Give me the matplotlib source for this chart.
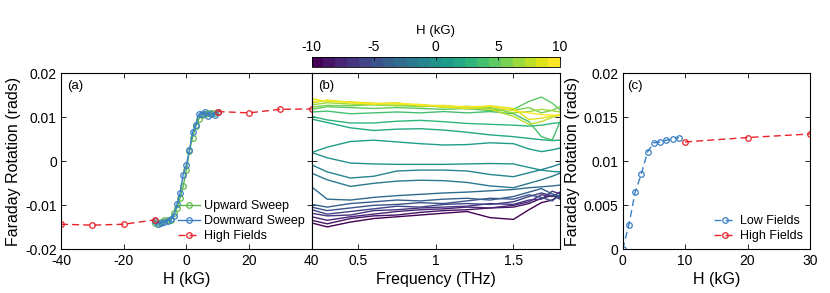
import numpy as np
import matplotlib
matplotlib.use("Agg")
import matplotlib.pyplot as plt
from matplotlib.colors import ListedColormap, Normalize
from matplotlib.cm import ScalarMappable

plt.rcParams['font.family'] = ['Liberation Sans', 'DejaVu Sans']
plt.rcParams['axes.unicode_minus'] = False

# ---- panel (a): hysteresis sweeps ----
h_sweep = np.arange(-10, 11)
up_sweep = [-0.0140, -0.0142, -0.0138, -0.0134, -0.0134, -0.0133, -0.0118, -0.0106,
            -0.0084, -0.0056, -0.0020, 0.0024, 0.0054, 0.0080, 0.0096, 0.0106,
            0.0108, 0.0110, 0.0110, 0.0110, 0.0112]
down_sweep = [-0.0136, -0.0142, -0.0140, -0.0138, -0.0135, -0.0132, -0.0124, -0.0098,
              -0.0072, -0.0030, -0.0008, 0.0026, 0.0066, 0.0082, 0.0107, 0.0108,
              0.0112, 0.0104, 0.0108, 0.0105, 0.0112]
h_high_a = [-40, -30, -20, -10, np.nan, 10, 20, 30, 40]
high_a = [-0.0143, -0.0145, -0.0143, -0.0133, np.nan, 0.0113, 0.0110, 0.0118, 0.0119]

# ---- panel (b): rotation spectra, one per field (mrad) ----
freq = [0.2, 0.3, 0.45, 0.6, 0.75, 0.9, 1.05, 1.2, 1.35, 1.5, 1.6, 1.68, 1.75, 1.8]
spectra = {
    10: [13.6, 13.8, 13.3, 13.0, 13.2, 12.8, 12.6, 12.4, 12.5, 11.5, 11.0, 10.6, 10.5, 10.4],
    9: [14.2, 13.6, 13.5, 13.2, 13.0, 12.9, 12.3, 12.0, 12.6, 12.0, 9.5, 9.8, 10.3, 10.6],
    8: [13.2, 13.9, 13.4, 13.1, 13.3, 12.5, 12.7, 12.2, 11.8, 10.2, 8.4, 9.0, 10.0, 10.5],
    7: [12.8, 13.3, 13.0, 12.8, 12.6, 12.9, 12.2, 12.5, 12.0, 11.0, 11.3, 11.8, 11.5, 11.2],
    6: [12.3, 12.7, 12.6, 12.9, 12.7, 12.4, 12.6, 11.9, 12.2, 11.6, 12.2, 11.0, 11.6, 12.4],
    5: [11.8, 12.4, 12.2, 12.0, 12.2, 12.0, 11.8, 12.0, 11.5, 11.8, 13.6, 14.6, 13.2, 11.7],
    4: [11.2, 11.4, 10.8, 11.0, 11.2, 11.0, 11.3, 11.0, 11.3, 10.8, 9.0, 5.6, 4.8, 9.0],
    3: [10.2, 9.4, 8.7, 8.7, 9.1, 9.3, 9.0, 8.6, 8.4, 8.2, 8.0, 8.2, 8.6, 8.8],
    2: [9.6, 8.8, 7.6, 7.0, 7.3, 7.4, 7.1, 6.6, 6.0, 5.6, 5.2, 4.9, 4.7, 4.8],
    1: [2.0, 3.2, 4.5, 4.8, 4.4, 4.0, 3.7, 3.8, 4.2, 4.0, 2.8, 2.2, 2.6, 3.0],
    0: [2.0, 0.8, -0.4, -0.6, -0.7, -0.7, -0.7, -0.6, -0.5, -0.6, -1.4, -2.0, -2.3, -2.4],
    -1: [-0.8, -2.4, -3.8, -3.4, -2.2, -2.0, -2.0, -2.2, -3.0, -3.5, -2.6, -1.9, -1.2, -0.6],
    -2: [-2.7, -4.2, -5.7, -5.0, -4.5, -4.3, -4.4, -4.8, -5.6, -6.0, -5.0, -4.2, -3.4, -2.7],
    -3: [-5.8, -8.6, -8.8, -8.2, -7.8, -7.5, -7.2, -7.0, -6.7, -6.4, -6.0, -5.8, -5.6, -5.4],
    -4: [-9.8, -10.4, -9.6, -9.2, -8.8, -9.0, -8.6, -8.4, -8.8, -8.0, -7.0, -6.2, -7.4, -8.0],
    -5: [-10.4, -11.2, -10.6, -10.0, -9.8, -9.4, -9.6, -9.0, -8.4, -8.6, -7.6, -8.2, -9.0, -7.6],
    -6: [-11.0, -12.0, -11.4, -10.8, -10.2, -10.4, -9.8, -9.6, -9.8, -9.2, -8.0, -7.2, -7.8, -8.6],
    -7: [-11.8, -12.4, -12.2, -11.2, -11.0, -10.6, -10.4, -10.2, -9.6, -9.8, -8.8, -8.6, -6.8, -7.4],
    -8: [-12.6, -13.4, -12.6, -12.0, -11.4, -11.0, -10.8, -10.4, -10.6, -10.0, -9.2, -7.6, -8.0, -7.0],
    -9: [-13.4, -14.2, -13.0, -12.4, -12.2, -11.6, -11.2, -11.0, -10.6, -10.4, -9.6, -8.4, -7.8, -8.2],
    -10: [-14.0, -14.9, -13.8, -13.0, -12.6, -12.2, -11.8, -11.4, -12.8, -13.2, -11.0, -9.4, -8.8, -7.6],
}

# ---- panel (c): magnitude vs field ----
h_low = [0, 1, 2, 3, 4, 5, 6, 7, 8, 9]
low_c = [0.0, 0.0028, 0.0065, 0.0086, 0.0111, 0.0121, 0.0122, 0.0124, 0.0125, 0.0127]
h_high_c = [10, 20, 30]
high_c = [0.0122, 0.0127, 0.0131]

green = '#5cb947'
blue = '#3a7fc4'
red = '#e8232a'
dash = (5, 3)

fig = plt.figure(figsize=(8.3, 2.93), dpi=100)
axa = fig.add_axes([0.0735, 0.149, 0.302, 0.601])
axb = fig.add_axes([0.3755, 0.149, 0.2992, 0.601])
axc = fig.add_axes([0.7502, 0.149, 0.2257, 0.601])

mk = dict(marker='o', mfc='none', ms=4, mew=0.9, lw=1.0)
leg = dict(loc='lower right', frameon=False, fontsize=9, handlelength=1.75,
           handletextpad=0.3, labelspacing=0.25, borderaxespad=0.25, borderpad=0.3)

axa.plot(h_sweep, up_sweep, color=green, label='Upward Sweep', **mk)
axa.plot(h_sweep[::-1], down_sweep[::-1], color=blue, label='Downward Sweep', **mk)
axa.plot(h_high_a, high_a, color=red, ls='--', dashes=dash, label='High Fields', **mk)
axa.set_xlim(-40, 40)
axa.set_ylim(-0.02, 0.02)
axa.set_xticks([-40, -20, 0, 20, 40])
axa.set_yticks([-0.02, -0.01, 0, 0.01, 0.02])
axa.set_yticklabels(['-0.02', '-0.01', '0', '0.01', '0.02'])
axa.set_xlabel('H (kG)', fontsize=11.5, labelpad=3)
axa.set_ylabel('Faraday Rotation (rads)', fontsize=11.5, labelpad=3)
axa.text(0.025, 0.93, '(a)', transform=axa.transAxes, fontsize=9.5, va='center')
axa.legend(**leg)

cmap = ListedColormap(plt.get_cmap('viridis')(np.linspace(0, 1, 21)))
norm = Normalize(-10, 10)
for h in sorted(spectra):
    axb.plot(freq, np.array(spectra[h]) * 1e-3, color=cmap(norm(h)), lw=1.0)
axb.set_xlim(0.2, 1.8)
axb.set_ylim(-0.02, 0.02)
axb.set_xticks([0.5, 1, 1.5])
axb.set_xticklabels(['0.5', '1', '1.5'])
axb.set_yticks([-0.02, -0.01, 0, 0.01, 0.02])
axb.set_yticklabels([])
axb.set_xlabel('Frequency (THz)', fontsize=11.5, labelpad=3)
axb.text(0.025, 0.93, '(b)', transform=axb.transAxes, fontsize=9.5, va='center')

cax = fig.add_axes([0.3755, 0.770, 0.2992, 0.037])
cb = fig.colorbar(ScalarMappable(norm=norm, cmap=cmap), cax=cax, orientation='horizontal')
cb.set_ticks([-10, -5, 0, 5, 10])
cb.set_ticklabels(['-10', '-5', '0', '5', '10'])
cax.xaxis.set_ticks_position('top')
cax.xaxis.set_label_position('top')
cax.tick_params(direction='in', length=2, labelsize=10, pad=2, width=0.6)
cb.set_label('H (kG)', fontsize=9.5, labelpad=4)
cb.outline.set_linewidth(0.6)

axc.plot(h_low, low_c, color=blue, ls='--', dashes=dash, label='Low Fields', **mk)
axc.plot(h_high_c, high_c, color=red, ls='--', dashes=dash, label='High Fields', **mk)
axc.set_xlim(0, 30)
axc.set_ylim(0, 0.02)
axc.set_xticks([0, 10, 20, 30])
axc.set_yticks([0, 0.005, 0.01, 0.015, 0.02])
axc.set_yticklabels(['0', '0.005', '0.01', '0.015', '0.02'])
axc.set_xlabel('H (kG)', fontsize=11.5, labelpad=3)
axc.set_ylabel('Faraday Rotation (rads)', fontsize=11.5, labelpad=3)
axc.text(0.025, 0.93, '(c)', transform=axc.transAxes, fontsize=9.5, va='center')
axc.legend(**leg)

for ax in (axa, axb, axc):
    ax.tick_params(direction='in', top=True, right=True, length=3.5, width=0.6,
                   labelsize=10, pad=3)
    for s in ax.spines.values():
        s.set_linewidth(0.8)

fig.savefig('out.png', dpi=100)
